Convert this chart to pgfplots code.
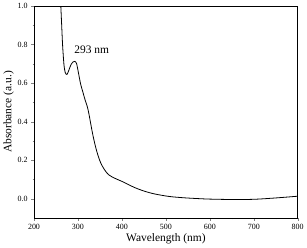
\documentclass[border=0pt]{standalone}
\usepackage{pgfplots}
\pgfplotsset{compat=1.18}
\usepackage{fontspec}
\setmainfont{Liberation Serif}
\begin{document}
\begin{tikzpicture}
\begin{axis}[
  scale only axis,
  width=265pt, height=213pt,
  xmin=200, xmax=800, ymin=-0.1, ymax=1.0,
  xtick={200,300,...,800},
  minor x tick num=1,
  ytick={0,0.2,...,1.0},
  minor y tick num=1,
  tick align=outside,
  xtick pos=bottom, ytick pos=left,
  major tick length=3pt, minor tick length=1.5pt,
  yticklabel style={/pgf/number format/fixed,/pgf/number format/fixed zerofill,/pgf/number format/precision=1},
  /pgf/number format/assume math mode=true,
  tick label style={font=\fontsize{8}{9}\selectfont},
  label style={font=\fontsize{11.5}{13}\selectfont},
  xlabel={Wavelength (nm)},
  ylabel={Absorbance (a.u.)},
  xlabel style={yshift=3pt},
  ylabel style={yshift=-3pt},
  axis line style={line width=0.6pt},
  clip=true,
]
\addplot[black, line width=0.8pt, smooth] coordinates {
(259,1.08) (261,1.0) (263,0.9) (265,0.8) (268,0.7) (271,0.655) (275,0.645) (279,0.665) (284,0.695) (289,0.71) (293,0.713) (297,0.7) (301,0.655) (306,0.596) (311,0.555) (316,0.515) (321.5,0.476) (325,0.44) (329,0.39) (334,0.33) (340,0.27) (346,0.222) (352,0.185) (360,0.152) (370,0.124) (385,0.105) (401,0.089) (416,0.072) (431,0.056) (450,0.04) (470,0.027) (490,0.018) (510,0.011) (540,0.005) (570,0.001) (600,-0.002) (650,-0.004) (700,-0.003) (750,0.004) (800,0.013)
};
\node[anchor=west, font=\fontsize{11.5}{13}\selectfont] at (axis cs:284,0.775) {293 nm};
\end{axis}
\end{tikzpicture}
\end{document}
